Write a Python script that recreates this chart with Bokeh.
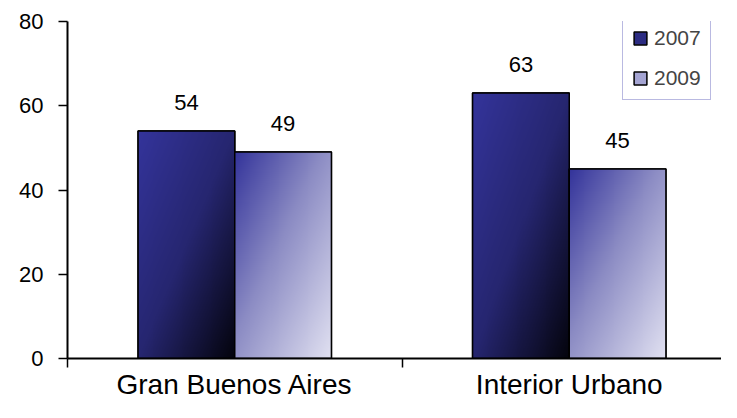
import numpy as np
from bokeh.plotting import figure
from bokeh.models import (Range1d, FixedTicker, ColumnDataSource, LabelSet,
                          Legend, LegendItem)
from bokeh.core.properties import value
from bokeh.embed import file_html
from bokeh.resources import INLINE

# ---- data ----
categories = ["Gran Buenos Aires", "Interior Urbano"]
years = ["2007", "2009"]
values_2007 = [54, 63]
values_2009 = [49, 45]
y_ticks = [0, 20, 40, 60, 80]

FONT = "Liberation Sans"
BAR_W = 0.289
W, H = 721, 402
LEFT, TOP, BOTTOM = 67, 21, 43
# reference axis spans 67..736 px for the categories; our canvas ends at 721
x_end = len(categories) * (W - LEFT) / (736 - LEFT)

p = figure(width=W, height=H, output_backend="svg", toolbar_location=None,
           x_range=Range1d(0, x_end), y_range=Range1d(0, 80),
           min_border_left=LEFT, min_border_right=0, min_border_top=TOP,
           min_border_bottom=BOTTOM)
p.outline_line_color = None
p.grid.visible = False


def gradient(stops, Hh=300, Ww=100):
    yy, xx = np.mgrid[0:Hh, 0:Ww]
    u = xx / (Ww - 1)
    v = yy / (Hh - 1)          # row 0 = bottom
    t = (u + (1 - v)) / 2      # top-left -> bottom-right
    ts = [s[0] for s in stops]
    img = np.empty((Hh, Ww, 4), dtype=np.uint8)
    for k in range(3):
        img[..., k] = np.interp(t, ts, [s[1][k] for s in stops]).astype(np.uint8)
    img[..., 3] = 255
    return img.view(np.uint32).reshape(Hh, Ww)


stops = {
    "2007": [(0.0, (52, 52, 155)), (0.5, (38, 38, 112)), (1.0, (4, 4, 12))],
    "2009": [(0.0, (52, 52, 155)), (0.45, (140, 140, 196)), (1.0, (226, 226, 242))],
}
solid = {"2007": "#2c2c82", "2009": "#a4a4d2"}

centers = [i + 0.5 for i in range(len(categories))]
series = {"2007": values_2007, "2009": values_2009}

legend_items = []
all_src = []
for j, yr in enumerate(years):
    vals = series[yr]
    lefts = [c - BAR_W if j == 0 else c for c in centers]
    src = ColumnDataSource(dict(
        image=[gradient(stops[yr]) for _ in vals],
        x=lefts, y=[0] * len(vals), dw=[BAR_W] * len(vals), dh=vals,
        left=lefts, right=[l + BAR_W for l in lefts], top=vals,
        bottom=[0] * len(vals), xc=[l + BAR_W / 2 for l in lefts],
        txt=[str(v) for v in vals]))
    all_src.append(src)
    # solid base bar (also used for the legend swatch)
    r = p.quad(left="left", right="right", top="top", bottom="bottom", source=src,
               fill_color=solid[yr], line_color="black", line_width=1.5)
    legend_items.append(LegendItem(label=yr, renderers=[r]))
    # gradient fill
    p.image_rgba(image="image", x="x", y="y", dw="dw", dh="dh", source=src)
    # outline on top
    p.quad(left="left", right="right", top="top", bottom="bottom", source=src,
           fill_alpha=0, line_color="black", line_width=1.5)
    p.add_layout(LabelSet(x="xc", y="top", text="txt", source=src, y_offset=21,
                          text_align="center", text_baseline="alphabetic",
                          text_font=value(FONT), text_font_size="22px",
                          text_color="black"))

legend = Legend(items=legend_items, location=(555, 258), padding=9, spacing=16,
                glyph_width=16, glyph_height=16, label_standoff=6,
                label_text_font=FONT, label_text_font_size="21px",
                border_line_color="#7474c4", border_line_width=1.2,
                background_fill_color="white", background_fill_alpha=1, margin=0)
p.add_layout(legend)

# axes
xa = p.xaxis[0]
xa.ticker = FixedTicker(ticks=centers, minor_ticks=list(range(len(categories) + 1)))
xa.major_label_overrides = {c: name for c, name in zip(centers, categories)}
xa.major_tick_out = 0
xa.major_tick_in = 0
xa.minor_tick_out = 9
xa.minor_tick_in = 0
xa.minor_tick_line_color = "black"
xa.minor_tick_line_width = 1.5
xa.axis_line_color = "black"
xa.axis_line_width = 2
xa.major_label_standoff = 1
xa.major_label_text_font = FONT
xa.major_label_text_font_size = "28px"
xa.major_label_text_color = "black"

ya = p.yaxis[0]
ya.ticker = FixedTicker(ticks=y_ticks)
ya.major_tick_out = 9
ya.major_tick_in = 0
ya.minor_tick_out = 0
ya.minor_tick_in = 0
ya.major_tick_line_color = "black"
ya.major_tick_line_width = 1.5
ya.axis_line_color = "black"
ya.axis_line_width = 2
ya.major_label_standoff = 15
ya.major_label_text_font = FONT
ya.major_label_text_font_size = "22px"
ya.major_label_text_color = "black"

open("out.html", "w").write(file_html(p, INLINE))
